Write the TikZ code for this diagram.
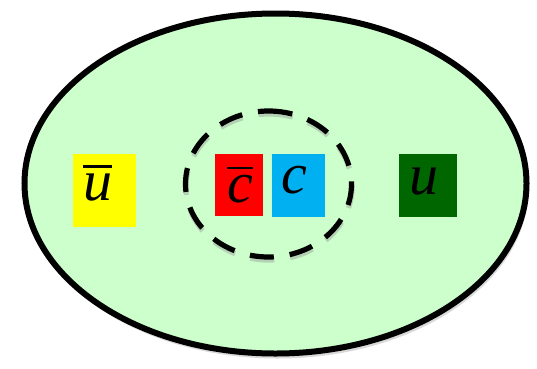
\documentclass[tikz,border=0pt]{standalone}
\usepackage{fontspec}
\setmainfont{Liberation Serif}
\usetikzlibrary{shapes.geometric, shadows, positioning}
\definecolor{mintgreen}{HTML}{CCFFCC}
\definecolor{quarkyellow}{HTML}{FFFF00}
\definecolor{quarkred}{HTML}{FF0000}
\definecolor{quarkblue}{HTML}{00B0F0}
\definecolor{quarkgreen}{HTML}{006600}
\newcommand{\antiq}[1]{\vbox{\hrule height 2.8pt\kern 6pt\hbox{#1}}}

\begin{document}
\begin{tikzpicture}[x=1pt, y=1pt,
    hadron/.style={draw, ellipse, line width=6pt, fill=mintgreen, inner sep=0pt,
      minimum width=502pt, minimum height=340pt,
      drop shadow={shadow xshift=2pt, shadow yshift=-5pt, opacity=0.3}},
    pairring/.style={draw, ellipse, rotate=90, yscale=-1, inner sep=0pt, line width=5.2pt,
      dash pattern=on 24pt off 16pt, minimum width=146pt, minimum height=166pt},
    quark/.style={rectangle, inner sep=0pt},
    qlabel/.style={inner sep=0pt, font=\fontsize{58}{58}\selectfont\itshape}]
  \useasboundingbox (0,0) rectangle (537,368);

  % Hadron
  \node [hadron] (meson) at (275.5,184.5) {};

  % Charm pair ring (with its shadow)
  \node [pairring, draw=black!40, opacity=0.45] (ringshadow) at (269,181) {};
  \node [pairring] (ring) at (268.5,184) {};

  % Quarks
  \node [quark, fill=quarkyellow, minimum width=63pt, minimum height=73pt,
    label={[qlabel, xshift=-7pt, yshift=7.5pt]center:\antiq{u}}] (ubar) at (104.5,177.5) {};
  \node [quark, fill=quarkred, minimum width=48pt, minimum height=62pt,
    label={[qlabel, xshift=1pt]center:\antiq{c}}] (cbar) at (239,183) {};
  \node [quark, fill=quarkblue, minimum width=53pt, minimum height=63pt,
    label={[qlabel, xshift=-4pt, yshift=5.5pt]center:c}] (c) at (298.5,182.5) {};
  \node [quark, fill=quarkgreen, minimum width=58pt, minimum height=63pt,
    label={[qlabel, xshift=-4pt, yshift=4pt]center:u}] (u) at (428,182.5) {};
\end{tikzpicture}
\end{document}
